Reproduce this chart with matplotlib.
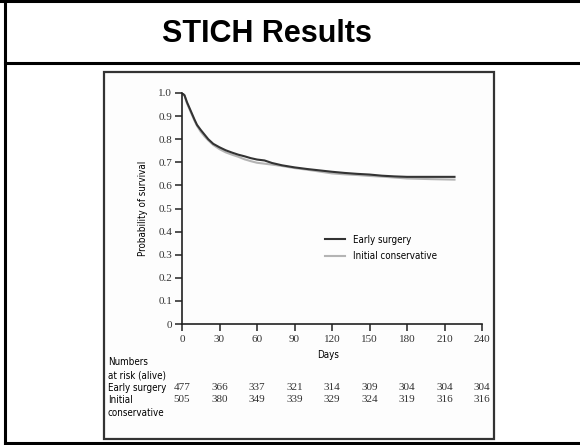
import matplotlib
matplotlib.use("Agg")
import matplotlib.pyplot as plt
from matplotlib.patches import Rectangle
from matplotlib.lines import Line2D
import matplotlib.transforms as mtransforms
from matplotlib import font_manager

# ---- data ----
title = "STICH Results"
early_days = [0, 2, 4, 6, 8, 10, 12, 15, 18, 21, 25, 30, 35, 40, 45, 50, 55, 60, 66, 72,
              80, 90, 100, 110, 120, 130, 140, 150, 160, 170, 180, 218]
early_surv = [1.0, 0.99, 0.96, 0.935, 0.91, 0.885, 0.862, 0.84, 0.82, 0.80, 0.78, 0.765,
              0.752, 0.742, 0.733, 0.726, 0.718, 0.712, 0.708, 0.697, 0.687, 0.678, 0.671,
              0.665, 0.659, 0.654, 0.650, 0.647, 0.642, 0.639, 0.637, 0.637]
cons_days = [0, 2, 4, 6, 8, 10, 12, 15, 18, 21, 25, 30, 35, 40, 45, 50, 55, 60, 66, 72,
             80, 90, 100, 110, 120, 130, 140, 150, 160, 170, 180, 200, 218]
cons_surv = [1.0, 0.99, 0.955, 0.93, 0.905, 0.88, 0.858, 0.832, 0.812, 0.795, 0.775, 0.757,
             0.743, 0.733, 0.724, 0.713, 0.705, 0.698, 0.694, 0.690, 0.684, 0.675, 0.668,
             0.660, 0.652, 0.648, 0.645, 0.641, 0.638, 0.634, 0.630, 0.627, 0.625]
x_ticks = [0, 30, 60, 90, 120, 150, 180, 210, 240]
y_ticks = [0, 0.1, 0.2, 0.3, 0.4, 0.5, 0.6, 0.7, 0.8, 0.9, 1.0]
y_tick_labels = ["0", "0.1", "0.2", "0.3", "0.4", "0.5", "0.6", "0.7", "0.8", "0.9", "1.0"]
risk_early = [477, 366, 337, 321, 314, 309, 304, 304, 304]
risk_cons = [505, 380, 349, 339, 329, 324, 319, 316, 316]
series_names = ["Early surgery", "Initial conservative"]

W, H = 580, 445
fig = plt.figure(figsize=(W / 100, H / 100), dpi=100)
fig.patch.set_facecolor("white")

def fx(x):
    return x / W

def fy(y):
    return 1 - y / H

# pick a condensed sans if one is installed
names = {f.name for f in font_manager.fontManager.ttflist}
cond_stretch = any(f.name == "DejaVu Sans" and f.stretch in ("condensed", 400 - 100, "semi-condensed")
                   for f in font_manager.fontManager.ttflist)
if "Liberation Sans Narrow" in names:
    NARROW = dict(family=["Liberation Sans Narrow"], size=8)
elif cond_stretch:
    NARROW = dict(family=["DejaVu Sans"], stretch="condensed", size=7)
else:
    NARROW = dict(family=["Liberation Sans"], size=6.8)

serif = ["Liberation Serif", "DejaVu Serif"]

def ntext(x, y, s, **kw):
    fp = font_manager.FontProperties(**NARROW)
    fig.text(fx(x), fy(y), s, fontproperties=fp, **kw)

# slide borders
fig.add_artist(Line2D([fx(0), fx(580)], [fy(1), fy(1)], color="black", lw=2.2))
fig.add_artist(Line2D([fx(5), fx(5)], [fy(0), fy(443)], color="black", lw=2.2))
fig.add_artist(Line2D([fx(5), fx(580)], [fy(63), fy(63)], color="black", lw=2.2))
fig.add_artist(Line2D([fx(5), fx(580)], [fy(443), fy(443)], color="black", lw=2.2))

# picture frame
fig.add_artist(Rectangle((fx(104), fy(439)), fx(494) - fx(104), fy(72) - fy(439),
                         facecolor="#fdfdfd", edgecolor="#333333", lw=1.6, zorder=0))

fig.text(fx(267), fy(34), title, ha="center", va="center", fontsize=22,
         fontweight="bold", family=["Liberation Sans", "DejaVu Sans"])

# axes
ax = fig.add_axes([fx(182), fy(324), fx(482) - fx(182), fy(93) - fy(324)])
ax.set_facecolor("none")
ax.plot(cons_days, cons_surv, color="#b4b4b4", lw=1.5, label=series_names[1])
ax.plot(early_days, early_surv, color="#333333", lw=1.5, label=series_names[0])
ax.set_xlim(0, 240)
ax.set_ylim(0, 1.0)
for s in ["top", "right"]:
    ax.spines[s].set_visible(False)
for s in ["left", "bottom"]:
    ax.spines[s].set_linewidth(1.2)
    ax.spines[s].set_color("#222222")
ax.set_xticks(x_ticks)
ax.set_xticklabels([str(t) for t in x_ticks], family=serif, fontsize=8, color="#333333")
ax.set_yticks(y_ticks)
ax.set_yticklabels(y_tick_labels, family=serif, fontsize=8, color="#333333")
ax.tick_params(axis="both", direction="out", length=5, width=1.1, color="#222222")
ax.tick_params(axis="x", pad=3)
ax.tick_params(axis="y", pad=2)

ntext(328, 355, "Days", ha="center", va="center")
ntext(143, 208, "Probability of survival", ha="center", va="center", rotation=90)

handles, labels = ax.get_legend_handles_labels()
leg = ax.legend(handles[::-1], labels[::-1], loc="center left",
                bbox_to_anchor=(fx(325), fy(248)), bbox_transform=fig.transFigure,
                frameon=False, borderpad=0, borderaxespad=0, handlelength=2.1,
                handletextpad=0.8, labelspacing=0.7,
                prop=font_manager.FontProperties(**NARROW))

# numbers at risk
trans = mtransforms.blended_transform_factory(ax.transData, fig.transFigure)
ntext(108, 362, "Numbers", ha="left", va="center")
ntext(108, 375, "at risk (alive)", ha="left", va="center")
ntext(108, 388, "Early surgery", ha="left", va="center")
ntext(108, 400, "Initial", ha="left", va="center")
ntext(108, 413, "conservative", ha="left", va="center")
for d, a, b in zip(x_ticks, risk_early, risk_cons):
    ax.text(d, fy(388), str(a), transform=trans, ha="center", va="center",
            fontsize=8, family=serif, color="#333333", clip_on=False)
    ax.text(d, fy(400), str(b), transform=trans, ha="center", va="center",
            fontsize=8, family=serif, color="#333333", clip_on=False)

fig.savefig("out.png", dpi=100, facecolor="white")
